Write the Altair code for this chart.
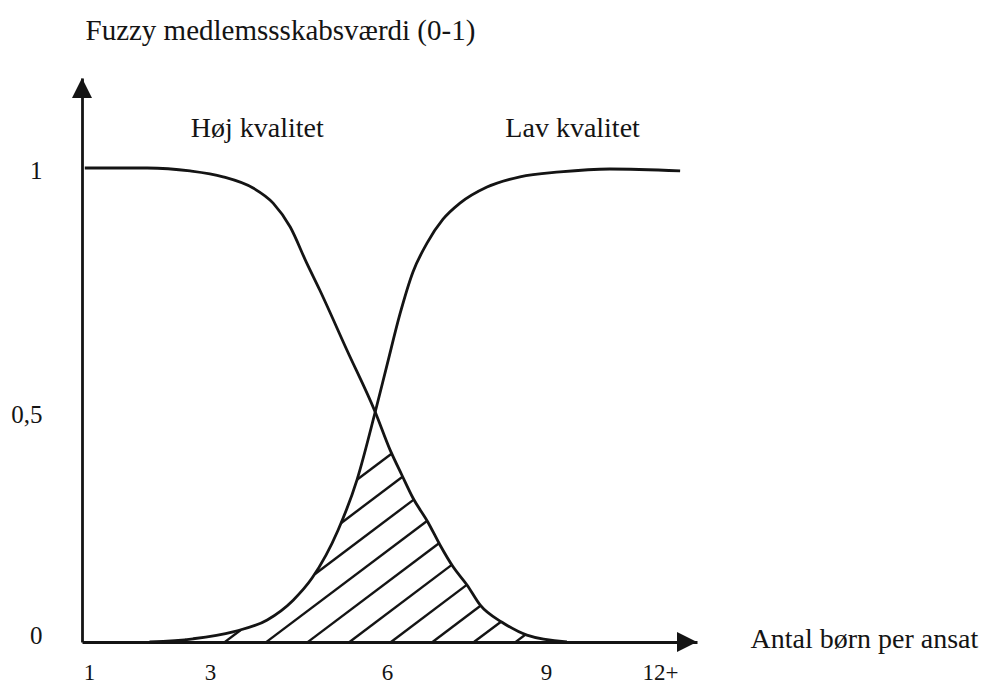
import math
import numpy as np
import pandas as pd
import altair as alt

# ---------------- values ----------------
X_TICKS = [1, 3, 6, 9, 12]
X_TICK_LABELS = ["1", "3", "6", "9", "12+"]
Y_TICKS = [0, 0.5, 1]
Y_TICK_LABELS = ["0", "0,5", "1"]

# "Høj kvalitet" membership curve
HIGH_X = [0.93, 1.96, 2.67, 3.22, 3.73, 4.07, 4.36, 4.64, 4.86, 5.32, 5.80,
          6.06, 6.28, 6.49, 6.77, 7.00, 7.25, 7.51, 7.76, 8.17, 8.64, 9.55]
HIGH_Y = [1.0, 1.0, 0.994, 0.982, 0.959, 0.928, 0.879, 0.805, 0.750, 0.627, 0.50,
          0.417, 0.363, 0.313, 0.261, 0.211, 0.163, 0.124, 0.080, 0.043, 0.015, 0.0]

# "Lav kvalitet" membership curve
LOW_X = [2.0, 2.72, 3.39, 3.97, 4.41, 4.73, 5.17, 5.49, 5.80, 6.0, 6.245, 6.49,
         6.755, 7.057, 7.377, 7.887, 8.509, 9.368, 10.68, 12.53]
LOW_Y = [0.0, 0.007, 0.022, 0.048, 0.091, 0.139, 0.243, 0.352, 0.50, 0.596, 0.701, 0.787,
         0.846, 0.895, 0.928, 0.961, 0.982, 0.992, 0.998, 0.994]

CURVE_LABELS = ["Høj kvalitet", "Lav kvalitet"]
CURVE_LABEL_X = [3.8, 9.7]
CURVE_LABEL_Y = [1.08, 1.08]

Y_TITLE = "Fuzzy medlemssskabsværdi (0-1)"
X_TITLE = "Antal børn per ansat"

# ---------------- layout / style ----------------
INK = "#141414"
SERIF = "Liberation Serif"
PLOT_LEFT, PLOT_TOP = 82, 78          # page pixels of the plot origin
W, H = 615, 564
XDOM = [0.884, 1, 3, 6, 9, 12, 12.974]
XRNG = [0, 7, 128, 305, 464, 578, 615]
YDOM = [0, 0.5, 1, 1.184]
YRNG = [564, 334, 90, 0]

HATCH_ANGLE = 37.0     # degrees, rising to the right
HATCH_FIRST = 598.0    # page-pixel offset of first hatch line
HATCH_STEP = 25.0
HATCH_COUNT = 10


def to_px(v):
    return np.interp(v, XDOM, XRNG)


def to_py(v):
    return np.interp(v, YDOM, YRNG)


def from_px(p):
    return float(np.interp(p, XRNG, XDOM))


def from_py(p):
    return float(np.interp(p, YRNG[::-1], YDOM[::-1]))


def monotone_eval(xs, ys, q):
    """Same curve as d3.curveMonotoneX (used by interpolate='monotone')."""
    xs = np.asarray(xs, float)
    ys = np.asarray(ys, float)
    n = len(xs)
    h = np.diff(xs)
    s = np.diff(ys) / h
    t = np.zeros(n)
    for i in range(1, n - 1):
        h0, h1, s0, s1 = h[i - 1], h[i], s[i - 1], s[i]
        p = (s0 * h1 + s1 * h0) / (h0 + h1)
        sg = (-1.0 if s0 < 0 else 1.0) + (-1.0 if s1 < 0 else 1.0)
        t[i] = sg * min(abs(s0), abs(s1), 0.5 * abs(p))
    t[0] = (3 * s[0] - t[1]) / 2
    t[-1] = (3 * s[-1] - t[-2]) / 2
    k = np.clip(np.searchsorted(xs, q, side="right") - 1, 0, n - 2)
    u = (q - xs[k]) / h[k]
    hk = h[k]
    val = ((2 * u**3 - 3 * u**2 + 1) * ys[k] + (u**3 - 2 * u**2 + u) * hk * t[k]
           + (-2 * u**3 + 3 * u**2) * ys[k + 1] + (u**3 - u**2) * hk * t[k + 1])
    return np.where((q >= xs[0]) & (q <= xs[-1]), val, np.nan)


# ---------------- hatching of the overlap region ----------------
grid = np.arange(0, W + 0.01, 0.25)
bh = monotone_eval(to_px(HIGH_X), to_py(HIGH_Y), grid)
bl = monotone_eval(to_px(LOW_X), to_py(LOW_Y), grid)
bh = np.where(np.isnan(bh), H, bh)
bl = np.where(np.isnan(bl), H, bl)
top = np.maximum(bh, bl)   # screen y of min(high, low)

nx = math.sin(math.radians(HATCH_ANGLE))
ny = math.cos(math.radians(HATCH_ANGLE))
segs = []
for k in range(HATCH_COUNT):
    c = HATCH_FIRST + k * HATCH_STEP - nx * PLOT_LEFT - ny * PLOT_TOP
    yl = (c - nx * grid) / ny
    inside = (yl >= top) & (yl <= H)
    d = np.diff(inside.astype(int))
    starts = list(np.where(d == 1)[0] + 1)
    ends = list(np.where(d == -1)[0])
    if inside[0]:
        starts.insert(0, 0)
    if inside[-1]:
        ends.append(len(grid) - 1)
    for a, b in zip(starts, ends):
        if math.hypot(grid[b] - grid[a], yl[b] - yl[a]) < 4:
            continue
        segs.append(dict(x=from_px(grid[a]), y=from_py(yl[a]),
                         x2=from_px(grid[b]), y2=from_py(yl[b])))
hatch_df = pd.DataFrame(segs)

high_df = pd.DataFrame({"x": HIGH_X, "y": HIGH_Y})
low_df = pd.DataFrame({"x": LOW_X, "y": LOW_Y})
lab_df = pd.DataFrame({"x": CURVE_LABEL_X, "y": CURVE_LABEL_Y, "t": CURVE_LABELS})
arrow_up_df = pd.DataFrame({"x": [XDOM[0]], "y": [YDOM[-1]]})
arrow_right_df = pd.DataFrame({"x": [XDOM[-1]], "y": [YDOM[0]]})


def label_expr(values, labels):
    expr = "''"
    for v, l in reversed(list(zip(values, labels))):
        expr = f"datum.value == {v} ? '{l}' : " + expr
    return expr


x_scale = alt.Scale(domain=XDOM, range=XRNG, nice=False, zero=False)
y_scale = alt.Scale(domain=YDOM, range=YRNG, nice=False, zero=False)

x_axis = alt.Axis(
    values=X_TICKS, labelExpr=label_expr(X_TICKS, X_TICK_LABELS), title=X_TITLE,
    grid=False, ticks=False, tickSize=0, domainColor=INK, domainWidth=2.8,
    labelFont=SERIF, labelFontSize=23, labelColor=INK, labelPadding=19,
    labelFlush=False, labelOverlap=False, labelBound=False,
    titleFont=SERIF, titleFontSize=28, titleFontWeight="normal", titleColor=INK,
    titleX=668, titleY=5, titleAlign="left", titleBaseline="alphabetic", titleAngle=0,
)
y_axis = alt.Axis(
    values=Y_TICKS, labelExpr=label_expr(Y_TICKS, Y_TICK_LABELS), title=Y_TITLE,
    grid=False, ticks=False, tickSize=0, domainColor=INK, domainWidth=2.8,
    labelFont=SERIF, labelFontSize=25, labelColor=INK, labelPadding=40,
    labelOffset={"condition": {"test": "datum.value == 0", "value": -7}, "value": 2},
    labelAlign="right", labelBaseline="middle", labelFlush=False, labelOverlap=False,
    titleFont=SERIF, titleFontSize=29, titleFontWeight="normal", titleColor=INK,
    titleX=3, titleY=-39, titleAlign="left", titleBaseline="alphabetic", titleAngle=0,
)


def X(f="x"):
    return alt.X(f, type="quantitative", scale=x_scale, axis=x_axis)


def Y(f="y"):
    return alt.Y(f, type="quantitative", scale=y_scale, axis=y_axis)


hatch = alt.Chart(hatch_df).mark_rule(color=INK, strokeWidth=2.4).encode(
    x=X(), y=Y(), x2="x2", y2="y2")
high = alt.Chart(high_df).mark_line(color=INK, strokeWidth=2.8, interpolate="monotone").encode(
    x=X(), y=Y())
low = alt.Chart(low_df).mark_line(color=INK, strokeWidth=2.8, interpolate="monotone").encode(
    x=X(), y=Y())
arrow_up = alt.Chart(arrow_up_df).mark_point(
    shape="M0,0L-1,2L1,2Z", size=400, filled=True, color=INK, opacity=1, strokeWidth=0
).encode(x=X(), y=Y())
arrow_right = alt.Chart(arrow_right_df).mark_point(
    shape="M0,0L-2,-1L-2,1Z", size=400, filled=True, color=INK, opacity=1, strokeWidth=0
).encode(x=X(), y=Y())
labels = alt.Chart(lab_df).mark_text(
    font=SERIF, fontSize=28, color=INK, align="center", baseline="middle"
).encode(x=X(), y=Y(), text="t:N")

chart = alt.layer(hatch, high, low, arrow_up, arrow_right, labels).properties(
    width=W, height=H,
    padding={"left": PLOT_LEFT - 8, "top": PLOT_TOP - 8, "right": 976 - (PLOT_LEFT - 8) - W,
             "bottom": 679 - (PLOT_TOP - 8) - H},
    autosize=alt.AutoSizeParams(type="none"),
    background="white",
).configure_view(stroke=None)

chart.save("out.html", embed_options={"renderer": "svg", "actions": False})
